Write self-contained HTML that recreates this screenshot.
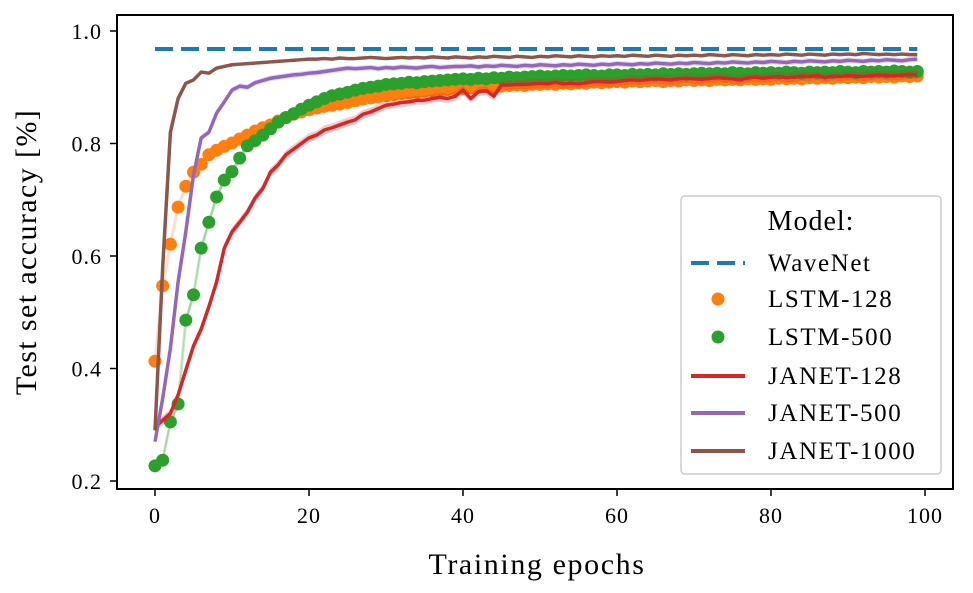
<!DOCTYPE html>
<html><head><meta charset="utf-8"><style>
body{margin:0;background:#fff}
svg{display:block;font-family:"Liberation Serif",serif}
</style></head><body>
<svg id="chart" width="973" height="593" viewBox="0 0 973 593" xmlns="http://www.w3.org/2000/svg">
<rect x="0" y="0" width="973" height="593" fill="#fff"/>
<g id="plot"></g>
<rect x="117" y="15" width="836" height="474" fill="none" stroke="#000" stroke-width="2"/>
<g id="axes"></g>
<text x="537" y="574" text-anchor="middle" font-size="30" letter-spacing="1.6">Training epochs</text>
<text transform="translate(36,252) rotate(-90)" text-anchor="middle" font-size="30" letter-spacing="1.4">Test set accuracy [%]</text>
<g id="legend">
<rect x="681" y="196" width="260" height="278" rx="4" fill="#fff" fill-opacity="0.85" stroke="#ccc" stroke-width="1.5"/>
<text x="811" y="230" text-anchor="middle" font-size="28" letter-spacing="1">Model:</text>
</g>
</svg>
<script>
const epochs = Array.from({length:100},(_, i)=>i);
const xTicks = [0,20,40,60,80,100];
const yTicks = [0.2,0.4,0.6,0.8,1.0];
const yTickLabels = ["0.2","0.4","0.6","0.8","1.0"];
const wavenet = 0.968;
const lstm128 = [0.413,0.547,0.621,0.687,0.724,0.749,0.763,0.780,0.788,0.795,0.801,0.808,0.815,0.822,0.828,0.833,0.840,0.846,0.852,0.856,0.860,0.863,0.866,0.868,0.870,0.873,0.876,0.879,0.881,0.883,0.885,0.887,0.889,0.890,0.891,0.893,0.894,0.895,0.896,0.897,0.898,0.899,0.900,0.901,0.900,0.902,0.903,0.904,0.903,0.905,0.905,0.906,0.905,0.907,0.906,0.908,0.907,0.909,0.908,0.909,0.910,0.909,0.911,0.910,0.911,0.912,0.910,0.912,0.911,0.913,0.912,0.913,0.912,0.914,0.913,0.914,0.913,0.915,0.914,0.915,0.914,0.916,0.915,0.916,0.915,0.917,0.916,0.917,0.916,0.918,0.917,0.918,0.917,0.919,0.918,0.919,0.918,0.920,0.919,0.920];
const lstm500 = [0.227,0.237,0.305,0.337,0.486,0.531,0.614,0.660,0.705,0.735,0.750,0.774,0.796,0.805,0.815,0.826,0.838,0.846,0.853,0.861,0.868,0.874,0.880,0.885,0.888,0.891,0.895,0.898,0.900,0.902,0.905,0.906,0.907,0.909,0.908,0.910,0.911,0.912,0.913,0.914,0.915,0.914,0.916,0.915,0.917,0.916,0.918,0.917,0.918,0.919,0.920,0.919,0.920,0.921,0.920,0.921,0.922,0.921,0.920,0.922,0.922,0.921,0.923,0.922,0.923,0.922,0.924,0.923,0.924,0.923,0.924,0.925,0.924,0.925,0.924,0.926,0.925,0.924,0.926,0.925,0.926,0.925,0.927,0.926,0.925,0.927,0.926,0.927,0.926,0.928,0.927,0.926,0.928,0.927,0.928,0.927,0.929,0.928,0.927,0.928];
const janet128 = [0.296,0.308,0.320,0.353,0.397,0.440,0.470,0.510,0.554,0.614,0.643,0.660,0.678,0.703,0.720,0.749,0.762,0.780,0.790,0.800,0.810,0.815,0.824,0.828,0.833,0.838,0.842,0.852,0.856,0.862,0.868,0.870,0.873,0.874,0.877,0.877,0.880,0.882,0.880,0.884,0.895,0.880,0.892,0.894,0.884,0.904,0.904,0.905,0.905,0.906,0.907,0.906,0.909,0.906,0.907,0.906,0.908,0.910,0.910,0.909,0.910,0.912,0.913,0.912,0.914,0.915,0.914,0.913,0.915,0.916,0.915,0.914,0.916,0.917,0.916,0.915,0.913,0.917,0.918,0.916,0.918,0.919,0.917,0.918,0.920,0.919,0.921,0.917,0.920,0.919,0.921,0.920,0.919,0.921,0.922,0.921,0.920,0.922,0.923,0.922];
const janet500 = [0.270,0.347,0.436,0.554,0.643,0.744,0.810,0.820,0.854,0.874,0.895,0.902,0.900,0.908,0.912,0.916,0.918,0.920,0.922,0.923,0.925,0.926,0.928,0.930,0.932,0.934,0.933,0.934,0.935,0.933,0.935,0.934,0.936,0.935,0.934,0.936,0.937,0.935,0.936,0.937,0.937,0.938,0.936,0.938,0.937,0.939,0.938,0.937,0.939,0.938,0.940,0.939,0.938,0.940,0.939,0.941,0.940,0.939,0.941,0.940,0.942,0.941,0.940,0.942,0.941,0.943,0.942,0.941,0.943,0.942,0.944,0.943,0.942,0.944,0.943,0.945,0.944,0.943,0.945,0.944,0.946,0.945,0.944,0.946,0.945,0.947,0.946,0.945,0.947,0.946,0.948,0.947,0.946,0.948,0.947,0.949,0.948,0.947,0.949,0.950];
const janet1000 = [0.290,0.580,0.820,0.880,0.907,0.913,0.927,0.925,0.934,0.937,0.940,0.941,0.942,0.943,0.944,0.945,0.946,0.947,0.948,0.949,0.950,0.950,0.951,0.950,0.952,0.951,0.951,0.952,0.953,0.952,0.951,0.952,0.953,0.952,0.953,0.952,0.954,0.953,0.952,0.954,0.953,0.952,0.954,0.953,0.955,0.954,0.953,0.955,0.954,0.953,0.955,0.954,0.956,0.955,0.954,0.956,0.955,0.954,0.956,0.955,0.956,0.955,0.957,0.956,0.955,0.957,0.956,0.955,0.957,0.956,0.957,0.956,0.958,0.957,0.956,0.958,0.957,0.956,0.958,0.957,0.958,0.957,0.959,0.958,0.957,0.959,0.958,0.957,0.959,0.958,0.959,0.958,0.960,0.959,0.958,0.959,0.958,0.959,0.958,0.958];

const NS="http://www.w3.org/2000/svg";
const X = v => 155 + v*7.7;
const Y = v => 31 + (1.0 - v)*562.5;
function mk(tag, attrs, parent){const e=document.createElementNS(NS,tag);for(const k in attrs)e.setAttribute(k,attrs[k]);parent.appendChild(e);return e;}
const plot=document.getElementById('plot'), axes=document.getElementById('axes'), legend=document.getElementById('legend');

xTicks.forEach(t=>{
  const l=mk('line',{x1:X(t),x2:X(t),y1:489,y2:496,stroke:'#000','stroke-width':1.5},axes);
  
  
  const tx=mk('text',{x:X(t),y:523,'text-anchor':'middle','font-size':22,'letter-spacing':1},axes);
  tx.textContent=t;
  
  
});
yTicks.forEach((t,i)=>{
  const l=mk('line',{x1:110,x2:117,y1:Y(t),y2:Y(t),stroke:'#000','stroke-width':1.5},axes);
  
  
  const tx=mk('text',{x:102,y:Y(t)+8,'text-anchor':'end','font-size':22,'letter-spacing':1},axes);
  tx.textContent=yTickLabels[i];
  
  
});

function pts(arr){return arr.map((v,i)=>X(epochs[i])+','+Y(v)).join(' ');}
function band(arr,w,color,name){
  const up=arr.map((v,i)=>X(epochs[i])+','+Y(v+w)), dn=arr.map((v,i)=>X(epochs[i])+','+Y(v-w)).reverse();
  const p=mk('polygon',{points:up.concat(dn).join(' '),fill:color,'fill-opacity':0.25,stroke:'none'},plot);
  
  
}
function line(arr,color,name,opacity,w){
  const p=mk('polyline',{points:pts(arr),fill:'none',stroke:color,'stroke-width':w||3.5,'stroke-opacity':opacity||1,'stroke-linejoin':'round'},plot);
  
  
}
function dots(arr,color,name){
  const g=mk('g',{},plot);
  
  
  arr.forEach((v,i)=>{
    const c=mk('circle',{cx:X(epochs[i]),cy:Y(v),r:6.5,fill:color},g);
    
    
  });
}
const wl=mk('line',{x1:X(0),x2:X(99),y1:Y(wavenet),y2:Y(wavenet),stroke:'#1f77b4','stroke-width':4,'stroke-dasharray':'18 8'},plot);



line(lstm128,'#ff7f0e','lstm-128-connector',0.25,3);
dots(lstm128,'#ff7f0e','lstm-128-points');
band(lstm500,0.006,'#2ca02c','lstm-500-band');
line(lstm500,'#2ca02c','lstm-500-connector',0.25,3);
dots(lstm500,'#2ca02c','lstm-500-points');
band(janet128,0.008,'#d62728','janet-128-band');
line(janet128,'#d62728','janet-128-line');
band(janet500,0.005,'#9467bd','janet-500-band');
line(janet500,'#9467bd','janet-500-line');
line(janet1000,'#8c564b','janet-1000-line');

const entries=[['WaveNet','#1f77b4','dash'],['LSTM-128','#ff7f0e','dot'],['LSTM-500','#2ca02c','dot'],['JANET-128','#d62728','line'],['JANET-500','#9467bd','line'],['JANET-1000','#8c564b','line']];
const ly=[263,299,337,376,413,451];
entries.forEach((e,i)=>{
  const g=mk('g',{},legend);
  
  
  if(e[2]==='dash') mk('line',{x1:691,x2:745,y1:ly[i],y2:ly[i],stroke:e[1],'stroke-width':4,'stroke-dasharray':'18 8'},g);
  else if(e[2]==='dot') mk('circle',{cx:718,cy:ly[i],r:6.5,fill:e[1]},g);
  else mk('line',{x1:691,x2:745,y1:ly[i],y2:ly[i],stroke:e[1],'stroke-width':4},g);
  const t=mk('text',{x:768,y:ly[i]+8,'font-size':25,'letter-spacing':1.6},g);
  t.textContent=e[0];
});
</script>
</body></html>
